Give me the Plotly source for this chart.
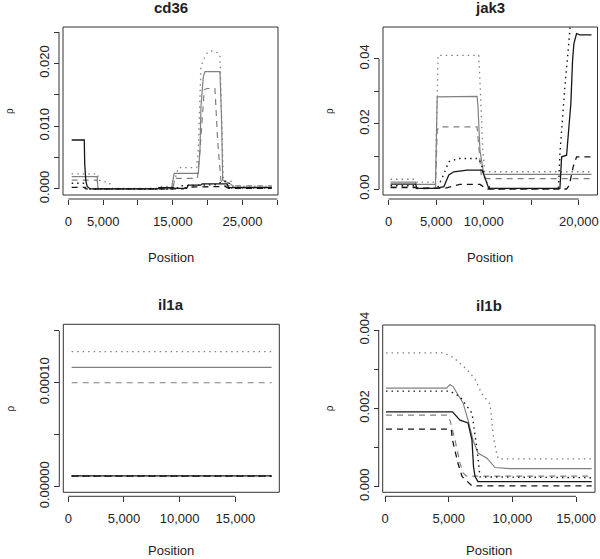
import plotly.graph_objects as go

W, H = 600, 559

# ---------------- data (positions in bp, rho values) ----------------
# cd36
cd36_gray_solid_x = [480, 4150, 4250, 14800, 15200, 18660, 18900, 19040, 19380, 19620, 21770, 22010, 22160, 23450, 23600, 29200]
cd36_gray_solid_y = [0.00196, 0.00196, 0.00005, 0.00005, 0.0025, 0.0025, 0.0062, 0.0131, 0.0179, 0.0187, 0.0187, 0.0105, 0.0014, 0.0007, 0.0003, 0.0003]
cd36_gray_dotted_x = [480, 4200, 4300, 5900, 6300, 12700, 13200, 15000, 15800, 18420, 18660, 18900, 19040, 19380, 19860, 20500, 21050, 21500, 21770, 21950, 22250, 23450, 23700, 29200]
cd36_gray_dotted_y = [0.0024, 0.0024, 0.0014, 0.001, 0.0001, 0.0001, 0.0004, 0.0004, 0.0034, 0.0034, 0.0062, 0.0131, 0.0195, 0.0205, 0.0216, 0.022, 0.0219, 0.0217, 0.0213, 0.013, 0.0013, 0.0012, 0.0004, 0.0004]
cd36_gray_dashed_x = [480, 4150, 4250, 15000, 15300, 18530, 18900, 19520, 19860, 21050, 21430, 21900, 22300, 29200]
cd36_gray_dashed_y = [0.0014, 0.0014, 0.0, 0.0, 0.0017, 0.0017, 0.0062, 0.0158, 0.016, 0.016, 0.0078, 0.0014, 0.0005, 0.0005]
cd36_black_solid_x = [480, 2290, 2350, 2500, 2700, 3160, 12800, 13000, 15000, 15300, 17000, 17200, 19000, 19200, 22800, 23000, 29200]
cd36_black_solid_y = [0.0078, 0.0078, 0.0041, 0.0014, 0.0004, 0.0, 0.0, 0.0002, 0.0002, 0.0001, 0.0001, 0.0006, 0.0006, 0.0008, 0.0008, 0.0002, 0.0002]
cd36_black_dotted_x = [480, 2300, 2500, 15500, 16000, 21500, 22000, 23000, 23300, 29200]
cd36_black_dotted_y = [0.0009, 0.0009, 0.0, 0.0, 0.0005, 0.0007, 0.0012, 0.0012, 0.0002, 0.0002]
cd36_black_dashed_x = [480, 2300, 2500, 16500, 17000, 22500, 23000, 29200]
cd36_black_dashed_y = [0.00027, 0.00027, 0.0, 0.0, 0.0003, 0.0004, 0.0001, 0.0001]

# jak3
jak3_gray_solid_x = [210, 2830, 2950, 4930, 5110, 9300, 9400, 9500, 9600, 10000, 21330]
jak3_gray_solid_y = [0.0021, 0.0021, 0.0014, 0.0014, 0.0283, 0.0285, 0.0253, 0.016, 0.012, 0.0045, 0.0045]
jak3_gray_dotted_x = [210, 2830, 2950, 4930, 5200, 9480, 9600, 9750, 9900, 10100, 21330]
jak3_gray_dotted_y = [0.003, 0.003, 0.0021, 0.0021, 0.0411, 0.0411, 0.0335, 0.0202, 0.012, 0.0053, 0.0053]
jak3_gray_dashed_x = [210, 2830, 2950, 4930, 5110, 5300, 9300, 9450, 9600, 9750, 10100, 21330]
jak3_gray_dashed_y = [0.0007, 0.0007, 0.0004, 0.0004, 0.018, 0.0191, 0.0191, 0.0133, 0.0072, 0.0041, 0.0032, 0.0032]
jak3_black_solid_x = [210, 2830, 3000, 5000, 5810, 6330, 6860, 7730, 8260, 9830, 10180, 10530, 18010, 18190, 18710, 18950, 19160, 19340, 19480, 19760, 20100, 21330]
jak3_black_solid_y = [0.0015, 0.0015, 0.0002, 0.0002, 0.0007, 0.0043, 0.0053, 0.0055, 0.0058, 0.0058, 0.0028, 0.0002, 0.0002, 0.0099, 0.0104, 0.0181, 0.0263, 0.0396, 0.0447, 0.0478, 0.0474, 0.0474]
jak3_black_dotted_x = [210, 2830, 3000, 5110, 5800, 6330, 7380, 9480, 9800, 10180, 10700, 17850, 18010, 18190, 18530, 18880, 19160, 19500, 21330]
jak3_black_dotted_y = [0.001, 0.001, 0.0002, 0.0002, 0.0045, 0.0084, 0.0094, 0.0094, 0.007, 0.0028, 0.0001, 0.0001, 0.011, 0.0191, 0.0314, 0.0427, 0.0519, 0.065, 0.065]
jak3_black_dashed_x = [210, 2830, 3000, 6000, 7500, 9620, 10300, 18700, 19000, 19400, 19760, 21330]
jak3_black_dashed_y = [0.0004, 0.0004, 0.0001, 0.0003, 0.0014, 0.0014, 0.0, 0.0, 0.0012, 0.0068, 0.0099, 0.0099]

# il1a
il1a_x = [300, 18260]
il1a_gray_solid_y = [0.0001147, 0.0001147]
il1a_gray_dotted_y = [0.00013, 0.00013]
il1a_gray_dashed_y = [0.0001, 0.0001]
il1a_black_solid_y = [0.0000104, 0.0000104]
il1a_black_dotted_y = [0.0000103, 0.0000103]
il1a_black_dashed_y = [0.0000102, 0.0000102]

# il1b
il1b_gray_solid_x = [80, 4840, 5100, 5370, 5500, 6130, 6520, 6910, 7300, 8010, 8640, 9820, 16230]
il1b_gray_solid_y = [0.00252, 0.00252, 0.00261, 0.00255, 0.00247, 0.00214, 0.0017, 0.00119, 0.00086, 0.00073, 0.00049, 0.00046, 0.00046]
il1b_gray_dotted_x = [80, 4580, 5370, 6410, 7070, 7590, 8250, 8510, 8770, 8900, 16230]
il1b_gray_dotted_y = [0.00342, 0.00342, 0.0033, 0.003, 0.00275, 0.00238, 0.00211, 0.00128, 0.00085, 0.00071, 0.00071]
il1b_gray_dashed_x = [80, 4900, 5100, 5500, 5890, 6130, 6400, 16230]
il1b_gray_dashed_y = [0.00183, 0.00183, 0.0017, 0.00119, 0.0006, 0.00035, 0.00027, 0.00027]
il1b_black_solid_x = [80, 5300, 5890, 6520, 6830, 6950, 7070, 7300, 16230]
il1b_black_solid_y = [0.00191, 0.00191, 0.0017, 0.00163, 0.00119, 0.00051, 0.00026, 0.00013, 0.00013]
il1b_black_dotted_x = [80, 5100, 5890, 6830, 7230, 7460, 16230]
il1b_black_dotted_y = [0.00244, 0.00244, 0.0023, 0.00188, 0.00094, 0.00025, 0.00023]
il1b_black_dashed_x = [80, 5200, 5300, 5730, 6050, 6830, 16230]
il1b_black_dashed_y = [0.00147, 0.00147, 0.00119, 0.0006, 0.00026, 0.00002, 0.00002]

panel_titles = ["cd36", "jak3", "il1a", "il1b"]

cd36_xticks = [0, 5000, 10000, 15000, 20000, 25000, 30000]
cd36_xticktext = ["0", "5,000", "", "15,000", "", "25,000", ""]
cd36_yticks = [0, 0.005, 0.01, 0.015, 0.02, 0.025]
cd36_yticktext = ["0.000", "", "0.010", "", "0.020", ""]
jak3_xticks = [0, 5000, 10000, 15000, 20000]
jak3_xticktext = ["0", "5,000", "10,000", "", "20,000"]
jak3_yticks = [0, 0.01, 0.02, 0.03, 0.04]
jak3_yticktext = ["0.00", "", "0.02", "", "0.04"]
il1a_xticks = [0, 5000, 10000, 15000]
il1a_xticktext = ["0", "5,000", "10,000", "15,000"]
il1a_yticks = [0, 0.00005, 0.0001, 0.00015]
il1a_yticktext = ["0.00000", "", "0.00010", ""]
il1b_xticks = [0, 5000, 10000, 15000]
il1b_xticktext = ["0", "5,000", "10,000", "15,000"]
il1b_yticks = [0, 0.001, 0.002, 0.003, 0.004]
il1b_yticktext = ["0.000", "", "0.002", "", "0.004"]

# ---------------- styling ----------------
GRAY = "#808080"
BLACK = "#161616"
DOT = "1.5px,4px"
DASH = "6px,5px"
STYLES = {
    "gray_solid": dict(color=GRAY, width=1.2, dash="solid"),
    "gray_dotted": dict(color=GRAY, width=1.3, dash=DOT),
    "gray_dashed": dict(color=GRAY, width=1.2, dash=DASH),
    "black_solid": dict(color=BLACK, width=1.3, dash="solid"),
    "black_dotted": dict(color=BLACK, width=1.4, dash=DOT),
    "black_dashed": dict(color=BLACK, width=1.3, dash=DASH),
}
FONT = "Liberation Sans, Arial, Helvetica, sans-serif"

# panel boxes in pixels: (left, right, top, bottom)
boxes = [(63, 278, 27, 195), (383, 597.5, 27, 195), (63.3, 279.3, 324.3, 492.3), (382.7, 595, 325, 492.3)]
xranges = [[-765, 30100], [-587, 21960], [-450, 18950], [-181, 16490]]
yranges = [[-0.00096, 0.0258], [-0.00184, 0.0498], [-0.0000054, 0.0001562], [-0.000143, 0.00413]]
xtitle_offset = [62, 62, 58, 58]

series = [
    [  # cd36
        ("gray_dotted", cd36_gray_dotted_x, cd36_gray_dotted_y),
        ("gray_dashed", cd36_gray_dashed_x, cd36_gray_dashed_y),
        ("gray_solid", cd36_gray_solid_x, cd36_gray_solid_y),
        ("black_dotted", cd36_black_dotted_x, cd36_black_dotted_y),
        ("black_dashed", cd36_black_dashed_x, cd36_black_dashed_y),
        ("black_solid", cd36_black_solid_x, cd36_black_solid_y),
    ],
    [  # jak3
        ("gray_dotted", jak3_gray_dotted_x, jak3_gray_dotted_y),
        ("gray_dashed", jak3_gray_dashed_x, jak3_gray_dashed_y),
        ("gray_solid", jak3_gray_solid_x, jak3_gray_solid_y),
        ("black_dotted", jak3_black_dotted_x, jak3_black_dotted_y),
        ("black_dashed", jak3_black_dashed_x, jak3_black_dashed_y),
        ("black_solid", jak3_black_solid_x, jak3_black_solid_y),
    ],
    [  # il1a
        ("gray_dotted", il1a_x, il1a_gray_dotted_y),
        ("gray_dashed", il1a_x, il1a_gray_dashed_y),
        ("gray_solid", il1a_x, il1a_gray_solid_y),
        ("black_dotted", il1a_x, il1a_black_dotted_y),
        ("black_solid", il1a_x, il1a_black_solid_y),
        ("black_dashed", il1a_x, il1a_black_dashed_y),
    ],
    [  # il1b
        ("gray_dotted", il1b_gray_dotted_x, il1b_gray_dotted_y),
        ("gray_dashed", il1b_gray_dashed_x, il1b_gray_dashed_y),
        ("gray_solid", il1b_gray_solid_x, il1b_gray_solid_y),
        ("black_dotted", il1b_black_dotted_x, il1b_black_dotted_y),
        ("black_dashed", il1b_black_dashed_x, il1b_black_dashed_y),
        ("black_solid", il1b_black_solid_x, il1b_black_solid_y),
    ],
]
xticks = [(cd36_xticks, cd36_xticktext), (jak3_xticks, jak3_xticktext), (il1a_xticks, il1a_xticktext), (il1b_xticks, il1b_xticktext)]
yticks = [(cd36_yticks, cd36_yticktext), (jak3_yticks, jak3_yticktext), (il1a_yticks, il1a_yticktext), (il1b_yticks, il1b_yticktext)]

fig = go.Figure()
layout = dict(
    width=W, height=H, autosize=False,
    margin=dict(l=0, r=0, t=0, b=0, pad=0, autoexpand=False),
    paper_bgcolor="white", plot_bgcolor="white", showlegend=False,
    font=dict(family=FONT, color="#222222", size=13),
)
shapes = []
annotations = []
GAP = 4
TICKLEN = 5

for i in range(4):
    n = "" if i == 0 else str(i + 1)
    xa, ya = "x" + n, "y" + n
    L, R, T, B = boxes[i]
    xd = [L / W, R / W]
    yd = [1 - B / H, 1 - T / H]
    xpos = yd[0] - GAP / H
    ypos = xd[0] - GAP / W
    tv, tt = xticks[i]
    yv, yt = yticks[i]
    layout["xaxis" + n] = dict(
        domain=xd, range=xranges[i], anchor="free", position=xpos, automargin=False,
        showgrid=False, zeroline=False, showline=False,
        ticks="outside", ticklen=TICKLEN, tickwidth=1, tickcolor="#333333",
        tickvals=tv, ticktext=tt, tickfont=dict(size=13, color="#222222"),
        ticklabelstandoff=5, fixedrange=True,
    )
    layout["yaxis" + n] = dict(
        domain=yd, range=yranges[i], anchor="free", position=ypos, automargin=False,
        showgrid=False, zeroline=False, showline=False,
        ticks="outside", ticklen=TICKLEN, tickwidth=1, tickcolor="#333333",
        tickvals=yv, ticktext=yt, tickangle=-90, tickfont=dict(size=13, color="#222222"),
        fixedrange=True,
    )
    for kind, xs, ys in series[i]:
        fig.add_trace(go.Scatter(x=xs, y=ys, mode="lines", line=STYLES[kind],
                                 xaxis=xa, yaxis=ya, hoverinfo="skip"))
    # plot frame
    shapes.append(dict(type="rect", xref=xa + " domain", yref=ya + " domain",
                       x0=0, x1=1, y0=0, y1=1, line=dict(color="#333333", width=1)))
    # axis lines spanning first to last tick (offset from the frame)
    shapes.append(dict(type="line", xref=xa, yref="paper", x0=tv[0], x1=tv[-1],
                       y0=xpos, y1=xpos, line=dict(color="#333333", width=1)))
    shapes.append(dict(type="line", xref="paper", yref=ya, x0=ypos, x1=ypos,
                       y0=yv[0], y1=yv[-1], line=dict(color="#333333", width=1)))
    # title
    annotations.append(dict(text="<b>" + panel_titles[i] + "</b>", xref="paper", yref="paper",
                            x=(L + R) / 2 / W, y=1 - (T - 19.5) / H, xanchor="center", yanchor="middle",
                            showarrow=False, font=dict(size=15, color="#222222")))
    # x-axis title
    annotations.append(dict(text="Position", xref="paper", yref="paper",
                            x=(L + R) / 2 / W, y=1 - (B + xtitle_offset[i]) / H, xanchor="center", yanchor="middle",
                            showarrow=False, font=dict(size=13, color="#222222")))
    # y-axis title
    annotations.append(dict(text="ρ", xref="paper", yref="paper",
                            x=(L - 53) / W, y=1 - (T + B) / 2 / H, xanchor="center", yanchor="middle",
                            textangle=-90, showarrow=False, font=dict(size=10, color="#222222")))

layout["shapes"] = shapes
layout["annotations"] = annotations
fig.update_layout(**layout)
fig.write_html("out.html", config={"displayModeBar": False},
               post_script="document.body.style.margin='0';document.body.style.overflow='hidden';")
